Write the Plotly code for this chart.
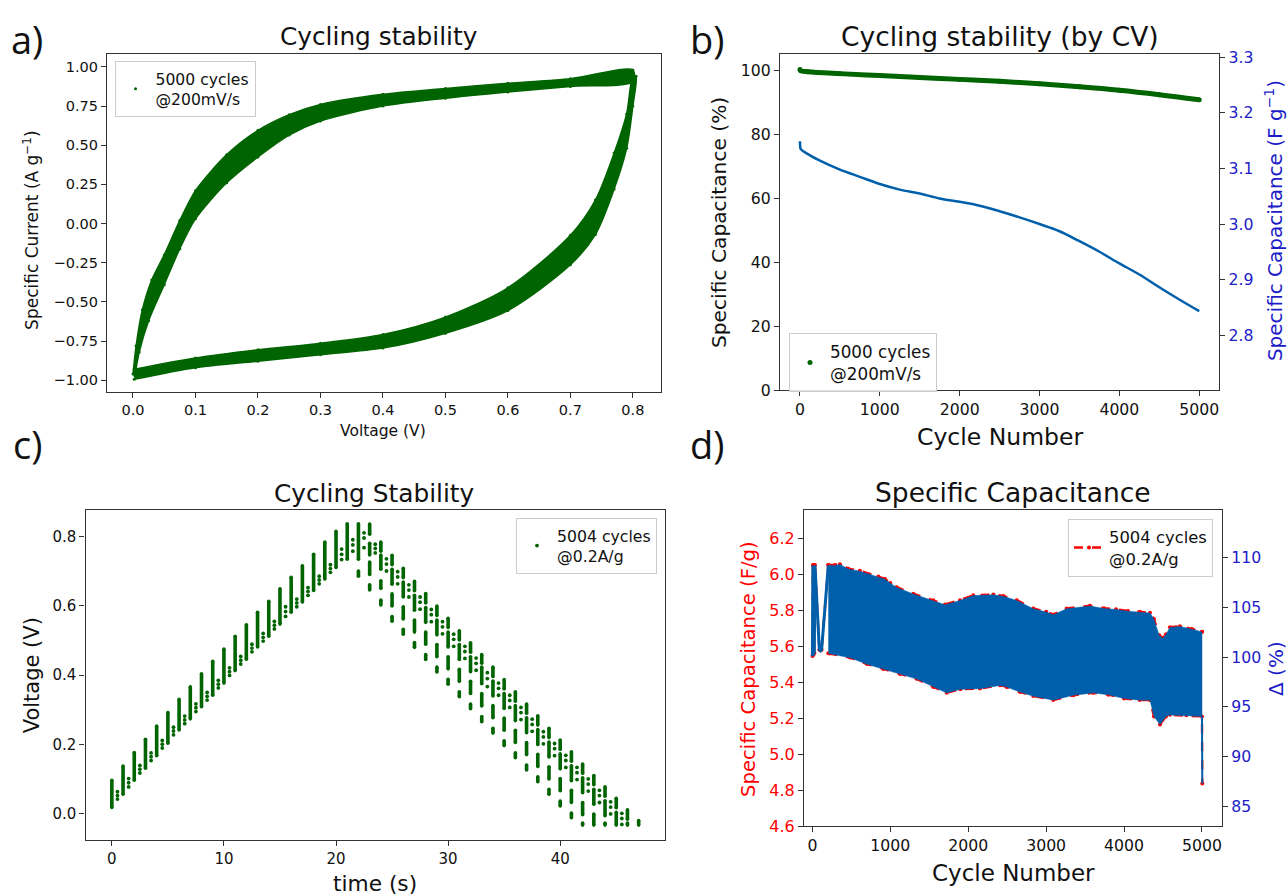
import plotly.graph_objects as go

W, H = 1287, 896

# ---------------- data ----------------
# a) CV loop, 5000 cycles superimposed: envelopes of the two branches (V, A/g)
a_up_outer_v = [0.000, 0.005, 0.015, 0.030, 0.050, 0.075, 0.100, 0.150, 0.200, 0.250, 0.300, 0.400, 0.500, 0.600, 0.700, 0.800]
a_up_outer_i = [-0.96, -0.78, -0.55, -0.36, -0.20, 0.02, 0.21, 0.44, 0.595, 0.695, 0.76, 0.825, 0.862, 0.896, 0.925, 0.98]
a_up_inner_v = [0.003, 0.010, 0.025, 0.050, 0.075, 0.100, 0.150, 0.200, 0.250, 0.300, 0.400, 0.500, 0.600, 0.700, 0.800]
a_up_inner_i = [-0.97, -0.82, -0.62, -0.39, -0.16, 0.03, 0.26, 0.425, 0.565, 0.655, 0.75, 0.80, 0.84, 0.875, 0.905]
a_lo_inner_v = [0.002, 0.100, 0.200, 0.300, 0.400, 0.500, 0.600, 0.700, 0.740, 0.770, 0.790, 0.800]
a_lo_inner_i = [-0.93, -0.858, -0.806, -0.764, -0.708, -0.597, -0.41, -0.075, 0.15, 0.45, 0.70, 0.94]
a_lo_outer_v = [0.002, 0.100, 0.200, 0.300, 0.400, 0.500, 0.600, 0.700, 0.740, 0.770, 0.790, 0.800, 0.805]
a_lo_outer_i = [-0.994, -0.92, -0.879, -0.837, -0.795, -0.70, -0.555, -0.263, -0.07, 0.22, 0.48, 0.75, 0.94]

# b) capacitance retention (%) and specific capacitance (F/g) vs cycle
b_cyc_ret = [0, 10, 100, 500, 1000, 1500, 2000, 2500, 3000, 3500, 4000, 4500, 5000]
b_ret = [100.3, 99.9, 99.6, 99.0, 98.4, 97.8, 97.2, 96.6, 95.8, 94.9, 93.8, 92.4, 90.8]
b_cyc_cap = [0, 3, 10, 100, 250, 500, 750, 1000, 1250, 1500, 1750, 2000, 2250, 2500,
             2750, 3000, 3250, 3500, 3750, 4000, 4250, 4500, 4750, 5000]
b_cap = [3.149, 3.140, 3.135, 3.126, 3.114, 3.098, 3.085, 3.072, 3.062, 3.055, 3.046, 3.040,
         3.033, 3.023, 3.012, 3.000, 2.987, 2.969, 2.950, 2.929, 2.909, 2.886, 2.864, 2.843]

# c) GCD voltage samples: vertical runs (t, low, high) and isolated dots
c_rise_t = [0, 1, 2, 3, 4, 5, 6, 7, 8, 9, 10, 11, 12, 13, 14, 15, 16, 17, 18, 19, 20, 21, 22]
c_rise_lo = [0.019, 0.057, 0.097, 0.132, 0.168, 0.204, 0.242, 0.274, 0.309, 0.342, 0.377, 0.413,
             0.446, 0.481, 0.512, 0.547, 0.581, 0.611, 0.644, 0.677, 0.710, 0.734, 0.734]
c_rise_hi = [0.097, 0.138, 0.177, 0.215, 0.253, 0.292, 0.330, 0.366, 0.404, 0.440, 0.475, 0.512,
             0.545, 0.581, 0.613, 0.649, 0.682, 0.715, 0.748, 0.783, 0.814, 0.836, 0.836]
c_fall_t = [22,
            23, 23, 23, 23, 24, 24, 24, 24, 25, 25, 25, 25, 26, 26, 26, 26,
            27, 27, 27, 27, 28, 28, 28, 28, 29, 29, 29, 29, 30, 30, 30, 30,
            31, 31, 31, 31, 32, 32, 32, 32, 33, 33, 33, 33, 34, 34, 34, 34,
            35, 35, 35, 35, 36, 36, 36, 36, 37, 37, 37, 37, 38, 38, 38, 38,
            39, 39, 39, 39, 40, 40, 40, 40, 41, 41, 41, 41, 42, 42, 42, 42,
            43, 43, 43, 44, 44, 44, 45, 45, 46, 46, 47]
c_fall_hi = [0.700,
             0.835, 0.780, 0.726, 0.660,
             0.783, 0.746, 0.672, 0.616,
             0.745, 0.705, 0.634, 0.569,
             0.708, 0.668, 0.597, 0.532,
             0.670, 0.630, 0.559, 0.494,
             0.635, 0.595, 0.524, 0.459,
             0.599, 0.559, 0.488, 0.423,
             0.564, 0.524, 0.453, 0.388,
             0.528, 0.488, 0.417, 0.352,
             0.493, 0.453, 0.382, 0.317,
             0.459, 0.423, 0.347, 0.281,
             0.423, 0.383, 0.312, 0.247,
             0.387, 0.347, 0.276, 0.211,
             0.352, 0.312, 0.241, 0.176,
             0.317, 0.277, 0.206, 0.141,
             0.283, 0.243, 0.172, 0.107,
             0.247, 0.207, 0.136, 0.071,
             0.213, 0.173, 0.102, 0.037,
             0.179, 0.139, 0.068, 0.003,
             0.144, 0.104, 0.033, -0.026,
             0.111, 0.071, 0.000,
             0.078, 0.038, -0.026,
             0.045, 0.005,
             0.012, -0.026,
             -0.019]
c_fall_lo = [0.685,
             0.806, 0.746, 0.690, 0.645,
             0.757, 0.705, 0.650, 0.602,
             0.718, 0.662, 0.599, 0.555,
             0.681, 0.625, 0.562, 0.518,
             0.643, 0.587, 0.524, 0.480,
             0.608, 0.552, 0.489, 0.445,
             0.572, 0.516, 0.453, 0.409,
             0.537, 0.481, 0.418, 0.374,
             0.501, 0.445, 0.382, 0.338,
             0.466, 0.410, 0.347, 0.303,
             0.434, 0.375, 0.311, 0.266,
             0.396, 0.340, 0.277, 0.233,
             0.360, 0.304, 0.241, 0.197,
             0.325, 0.269, 0.206, 0.162,
             0.290, 0.234, 0.171, 0.127,
             0.256, 0.200, 0.137, 0.093,
             0.220, 0.164, 0.101, 0.057,
             0.186, 0.130, 0.067, 0.023,
             0.152, 0.096, 0.033, -0.011,
             0.117, 0.061, -0.002, -0.032,
             0.084, 0.028, -0.032,
             0.051, -0.005, -0.032,
             0.018, -0.032,
             -0.015, -0.032,
             -0.032]
c_dot_x = [0.5, 1.5, 2.5, 3.5, 4.5, 5.5, 6.5, 7.5, 8.5, 9.5, 10.5, 11.5, 12.5, 13.5, 14.5, 15.5,
           16.5, 17.5, 18.5, 19.5, 20.5, 21.5, 22.5, 23.5, 24.5, 25.5, 26.5, 27.5, 28.5, 29.5,
           30.5, 31.5, 32.5, 33.5, 34.5, 35.5, 36.5, 37.5, 38.5, 39.5, 40.5, 41.5, 42.5, 43.5,
           44.5, 45.5]
c_dot_v1 = [0.064, 0.102, 0.140, 0.176, 0.212, 0.250, 0.282, 0.317, 0.350, 0.385, 0.421, 0.454,
            0.489, 0.520, 0.555, 0.597, 0.619, 0.652, 0.685, 0.718, 0.763, 0.790, 0.810,
            0.777, 0.735, 0.698, 0.660, 0.625, 0.589, 0.554, 0.518, 0.483, 0.449, 0.407, 0.377,
            0.342, 0.307, 0.273, 0.237, 0.203, 0.169, 0.134, 0.101, 0.068, 0.035, 0.002]
c_dot_v2 = [0.053, 0.090, 0.129, 0.165, 0.201, 0.239, 0.271, 0.306, 0.339, 0.374, 0.410, 0.443,
            0.478, 0.509, 0.544, 0.583, 0.608, 0.641, 0.674, 0.707, 0.748, 0.775, 0.795,
            0.765, 0.720, 0.683, 0.645, 0.610, 0.574, 0.539, 0.503, 0.468, 0.434, 0.390, 0.362,
            0.327, 0.292, 0.258, 0.222, 0.188, 0.154, 0.119, 0.086, 0.053, 0.020, -0.013]
c_dot_v3 = [0.043, 0.078, 0.118, 0.154, 0.190, 0.228, 0.260, 0.295, 0.328, 0.363, 0.399, 0.432,
            0.467, 0.498, 0.533, 0.569, 0.597, 0.630, 0.663, 0.696, 0.733, 0.757, 0.767,
            0.752, 0.700, 0.663, 0.625, 0.590, 0.554, 0.519, 0.483, 0.448, 0.414, 0.367, 0.342,
            0.307, 0.272, 0.238, 0.202, 0.168, 0.134, 0.099, 0.066, 0.033, 0.000, -0.030]

# d) specific capacitance (F/g) vs cycle: early trace and envelopes of the dense oscillation
d_early_cyc = [0, 6, 12, 18, 24, 33, 89, 104, 118, 204]
d_early_cap = [5.545, 6.05, 5.55, 6.05, 5.56, 6.05, 5.58, 5.575, 5.58, 6.05]
d_up_cyc = [204, 290, 354, 460, 609, 846, 932, 1000, 1082, 1295, 1552, 1702, 1894, 2065, 2322,
            2450, 2622, 2835, 3000, 3092, 3263, 3563, 3743, 3897, 4051, 4205, 4333, 4384, 4451,
            4500, 4538, 4589, 4718, 4872, 5000]
d_up_cap = [6.05, 6.05, 6.055, 6.03, 6.018, 5.986, 5.973, 5.95, 5.927, 5.891, 5.855, 5.831, 5.855,
            5.882, 5.886, 5.878, 5.855, 5.809, 5.79, 5.775, 5.809, 5.824, 5.81, 5.805, 5.795, 5.79,
            5.785, 5.75, 5.66, 5.645, 5.665, 5.705, 5.71, 5.695, 5.68]
d_lo_cyc = [204, 226, 483, 700, 910, 1124, 1338, 1552, 1723, 1900, 2151, 2408, 2494, 2664, 2835,
            3092, 3348, 3605, 3800, 3999, 4200, 4333, 4384, 4461, 4538, 4589, 4800, 5000]
d_lo_cap = [5.56, 5.558, 5.536, 5.50, 5.473, 5.445, 5.418, 5.373, 5.34, 5.36, 5.364, 5.382, 5.373,
            5.345, 5.322, 5.30, 5.327, 5.34, 5.33, 5.309, 5.30, 5.30, 5.209, 5.164, 5.209, 5.218,
            5.215, 5.209]
d_last_cyc = [5000, 5004]
d_last_cap = [5.209, 4.836]
d_cap_ref = 5.539  # capacitance of the reference (first) cycle, F/g -> 100 %

# tick labels
a_xt = [0.0, 0.1, 0.2, 0.3, 0.4, 0.5, 0.6, 0.7, 0.8]
a_yt = [-1.0, -0.75, -0.5, -0.25, 0.0, 0.25, 0.5, 0.75, 1.0]
a_ytl = ["−1.00", "−0.75", "−0.50", "−0.25", "0.00", "0.25", "0.50", "0.75", "1.00"]
cyc_t = [0, 1000, 2000, 3000, 4000, 5000]
b_yt = [0, 20, 40, 60, 80, 100]
b_y2t = [2.8, 2.9, 3.0, 3.1, 3.2, 3.3]
c_xt = [0, 10, 20, 30, 40]
c_yt = [0.0, 0.2, 0.4, 0.6, 0.8]
d_yt = [4.6, 4.8, 5.0, 5.2, 5.4, 5.6, 5.8, 6.0, 6.2]
d_y2t = [85, 90, 95, 100, 105, 110]

# ---------------- styling ----------------
GREEN = "#006400"
BLUE = "#005faa"
AXBLUE = "#1c1cc8"
RED = "#ff0000"
TXT = "#111111"
FONT = "DejaVu Sans"


def fx(p):
    return p / W


def fy(p):
    return 1 - p / H


def ax(**kw):
    d = dict(showline=True, linecolor="#333333", linewidth=1.2, ticks="outside", ticklen=5,
             tickwidth=1.2, tickcolor="#333333", showgrid=False, zeroline=False, mirror=True,
             tickfont=dict(family=FONT, size=15, color=TXT))
    d.update(kw)
    return d


fig = go.Figure()

# ---- a) ----
fig.add_trace(go.Scatter(x=a_up_outer_v + a_up_inner_v[::-1], y=a_up_outer_i + a_up_inner_i[::-1],
                         mode="lines", fill="toself", fillcolor=GREEN,
                         line=dict(color=GREEN, width=1.5, shape="spline", smoothing=0.8),
                         xaxis="x", yaxis="y", showlegend=False, hoverinfo="skip"))
fig.add_trace(go.Scatter(x=a_lo_inner_v + a_lo_outer_v[::-1], y=a_lo_inner_i + a_lo_outer_i[::-1],
                         mode="lines", fill="toself", fillcolor=GREEN,
                         line=dict(color=GREEN, width=1.5, shape="spline", smoothing=0.8),
                         xaxis="x", yaxis="y", showlegend=False, hoverinfo="skip"))
fig.add_trace(go.Scatter(x=a_up_outer_v + a_up_inner_v + a_lo_inner_v + a_lo_outer_v,
                         y=a_up_outer_i + a_up_inner_i + a_lo_inner_i + a_lo_outer_i,
                         mode="markers", marker=dict(color=GREEN, size=3),
                         name="5000 cycles<br>@200mV/s", legend="legend", xaxis="x", yaxis="y"))

# ---- b) ----
fig.add_trace(go.Scatter(x=b_cyc_ret, y=b_ret, mode="lines",
                         line=dict(color=GREEN, width=5, shape="spline"),
                         xaxis="x2", yaxis="y2", showlegend=False))
fig.add_trace(go.Scatter(x=b_cyc_ret, y=b_ret, mode="markers", marker=dict(color=GREEN, size=5),
                         name="5000 cycles<br>@200mV/s", legend="legend2", xaxis="x2", yaxis="y2"))
fig.add_trace(go.Scatter(x=b_cyc_cap, y=b_cap, mode="lines",
                         line=dict(color=BLUE, width=2.5, shape="spline"),
                         xaxis="x2", yaxis="y3", showlegend=False))

# ---- c) ----
seg_x, seg_y = [], []
for t, lo, hi in zip(c_rise_t + c_fall_t, c_rise_lo + c_fall_lo, c_rise_hi + c_fall_hi):
    seg_x += [t, t, None]
    seg_y += [lo, hi, None]
fig.add_trace(go.Scatter(x=seg_x, y=seg_y, mode="lines+markers", line=dict(color=GREEN, width=3.6),
                         marker=dict(color=GREEN, size=3.6), xaxis="x3", yaxis="y4", showlegend=False))
dot_x = c_dot_x + c_dot_x + c_dot_x
dot_y = c_dot_v1 + c_dot_v2 + c_dot_v3
fig.add_trace(go.Scatter(x=dot_x, y=dot_y, mode="markers", marker=dict(color=GREEN, size=3.8),
                         name="5004 cycles<br>@0.2A/g", legend="legend3", xaxis="x3", yaxis="y4"))

# ---- d) ----
red_line = dict(color=RED, width=2.4, dash="dash")
red_mark = dict(color=RED, size=4)
fig.add_trace(go.Scatter(x=d_early_cyc, y=d_early_cap, mode="lines+markers", line=red_line,
                         marker=red_mark, xaxis="x4", yaxis="y5", showlegend=False))
fig.add_trace(go.Scatter(x=d_up_cyc, y=d_up_cap, mode="lines+markers", line=red_line, marker=red_mark,
                         name="5004 cycles<br>@0.2A/g", legend="legend4", xaxis="x4", yaxis="y5"))
fig.add_trace(go.Scatter(x=d_lo_cyc + d_last_cyc[1:], y=d_lo_cap + d_last_cap[1:], mode="lines+markers",
                         line=red_line, marker=red_mark, xaxis="x4", yaxis="y5", showlegend=False))
fig.add_trace(go.Scatter(x=[d_up_cyc[-1]], y=[d_up_cap[-1]], mode="markers", marker=red_mark,
                         xaxis="x4", yaxis="y5", showlegend=False))


def pct(vals):
    return [v / d_cap_ref * 100 for v in vals]


fig.add_trace(go.Scatter(x=d_up_cyc + d_lo_cyc[::-1], y=pct(d_up_cap + d_lo_cap[::-1]), mode="lines",
                         fill="toself", fillcolor=BLUE, line=dict(color=BLUE, width=0.5),
                         xaxis="x4", yaxis="y6", showlegend=False, hoverinfo="skip"))
fig.add_trace(go.Scatter(x=d_early_cyc, y=pct(d_early_cap), mode="lines", line=dict(color=BLUE, width=3),
                         xaxis="x4", yaxis="y6", showlegend=False))
fig.add_trace(go.Scatter(x=d_last_cyc, y=pct(d_last_cap), mode="lines", line=dict(color=BLUE, width=2),
                         xaxis="x4", yaxis="y6", showlegend=False))

# ---------------- layout ----------------
leg = dict(bgcolor="rgba(255,255,255,0.85)", bordercolor="#cccccc", borderwidth=1,
           xanchor="left", yanchor="top", tracegroupgap=0, itemwidth=30)

fig.update_layout(
    width=W, height=H, autosize=False, margin=dict(l=0, r=0, t=0, b=0),
    paper_bgcolor="white", plot_bgcolor="white",
    font=dict(family=FONT, color=TXT, size=15),
    xaxis=ax(domain=[fx(107), fx(661)], anchor="y", range=[-0.0416, 0.845],
             tickvals=a_xt, ticktext=["%.1f" % v for v in a_xt], tickfont=dict(family=FONT, size=14.5, color=TXT)),
    yaxis=ax(domain=[fy(393), fy(49)], anchor="x", range=[-1.075, 1.0815],
             tickvals=a_yt, ticktext=a_ytl, tickfont=dict(family=FONT, size=14.5, color=TXT)),
    xaxis2=ax(domain=[fx(780), fx(1219.2)], anchor="y2", range=[-250, 5250],
              tickvals=cyc_t, ticktext=[str(v) for v in cyc_t], tickfont=dict(family=FONT, size=15.7, color=TXT)),
    yaxis2=ax(domain=[fy(391), fy(49)], anchor="x2", range=[0, 105.1],
              tickvals=b_yt, ticktext=[str(v) for v in b_yt], tickfont=dict(family=FONT, size=15.7, color=TXT)),
    yaxis3=ax(overlaying="y2", side="right", anchor="x2", range=[2.701, 3.306], mirror=False,
              tickvals=b_y2t, ticktext=["%.1f" % v for v in b_y2t],
              tickfont=dict(family=FONT, size=15.7, color=AXBLUE)),
    xaxis3=ax(domain=[fx(85.5), fx(665)], anchor="y4", range=[-2.35, 49.35],
              tickvals=c_xt, ticktext=[str(v) for v in c_xt], tickfont=dict(family=FONT, size=15, color=TXT)),
    yaxis4=ax(domain=[fy(849), fy(512.7)], anchor="x3", range=[-0.0745, 0.877],
              tickvals=c_yt, ticktext=["%.1f" % v for v in c_yt], tickfont=dict(family=FONT, size=15, color=TXT)),
    xaxis4=ax(domain=[fx(804), fx(1222)], anchor="y5", range=[-108, 5257],
              tickvals=cyc_t, ticktext=[str(v) for v in cyc_t], tickfont=dict(family=FONT, size=15.7, color=TXT)),
    yaxis5=ax(domain=[fy(835), fy(513.3)], anchor="x4", range=[4.6, 6.355],
              tickvals=d_yt, ticktext=["%.1f" % v for v in d_yt], tickfont=dict(family=FONT, size=16, color=RED)),
    yaxis6=ax(overlaying="y5", side="right", anchor="x4", range=[83.03, 114.78], mirror=False,
              tickvals=d_y2t, ticktext=[str(v) for v in d_y2t], tickfont=dict(family=FONT, size=15.7, color=AXBLUE)),
    legend=dict(leg, x=fx(114.5), y=fy(56), font=dict(family=FONT, size=15.6, color=TXT)),
    legend2=dict(leg, x=fx(789), y=fy(333), font=dict(family=FONT, size=16.8, color=TXT)),
    legend3=dict(leg, x=fx(657), y=fy(521), xanchor="right", font=dict(family=FONT, size=15.7, color=TXT)),
    legend4=dict(leg, x=fx(1213), y=fy(522), xanchor="right", font=dict(family=FONT, size=16.4, color=TXT)),
)


def note(text, x, y, size, color=TXT, angle=0, family=FONT):
    fig.add_annotation(text=text, x=fx(x), y=fy(y), xref="paper", yref="paper", showarrow=False,
                       xanchor="center", yanchor="middle", textangle=angle,
                       font=dict(family=family, size=size, color=color))


# panel letters
note("a)", 27, 34, 38, family="Open Sans")
note("b)", 707, 34, 38, family="Open Sans")
note("c)", 27, 446, 38, family="Open Sans")
note("d)", 707, 446, 38, family="Open Sans")
# titles
note("Cycling stability", 378, 31, 24.8)
note("Cycling stability (by CV)", 1000, 31, 26.5)
note("Cycling Stability", 374, 496, 24.8)
note("Specific Capacitance", 1013, 495, 26.5)
# axis titles
note("Voltage (V)", 383, 433, 15.5)
note("Specific Current (A g<sup>−1</sup>)", 31, 229, 17, angle=-90)
note("Cycle Number", 1000, 439, 23.5)
note("Specific Capacitance (%)", 719, 221, 20.2, angle=-90)
note("Specific Capacitance (F g<sup>−1</sup>)", 1274, 219, 20, color=AXBLUE, angle=-90)
note("time (s)", 375, 893, 21.7)
note("Voltage (V)", 31.5, 682, 21, angle=-90)
note("Cycle Number", 1013, 883, 23)
note("Specific Capacitance (F/g)", 749, 675, 19.6, color=RED, angle=-90)
note("Δ (%)", 1276, 675, 20, color=AXBLUE, angle=-90)

fig.write_html("out.html", config={"displayModeBar": False},
               post_script="document.body.style.margin='0';document.body.style.overflow='hidden';")
